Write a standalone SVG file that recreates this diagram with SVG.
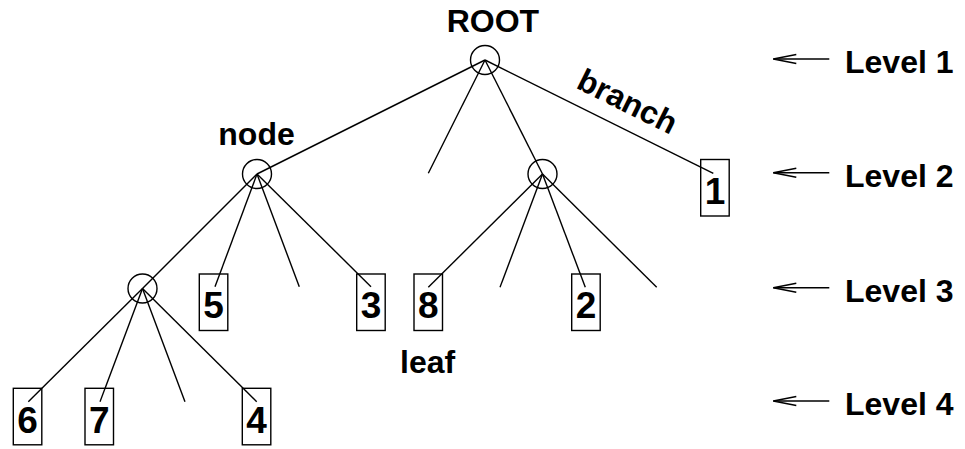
<svg xmlns="http://www.w3.org/2000/svg" width="965" height="449" viewBox="0 0 965 449">
  <style>
    .edge { stroke: #000; stroke-width: 1.4; fill: none; }
    .circ { stroke: #000; stroke-width: 1.4; fill: none; }
    .box { stroke: #000; stroke-width: 1.4; fill: none; }
    .num { font-family: "Liberation Sans", Arial, Helvetica, sans-serif; font-weight: bold; font-size: 37px; text-anchor: middle; fill: #000; }
    .lbl { font-family: "Liberation Sans", Arial, Helvetica, sans-serif; font-weight: bold; font-size: 32px; fill: #000; }
    .lvl { stroke: #000; stroke-width: 1.4; fill: none; }
  </style>
  <defs>
    <marker id="open-arrow" markerUnits="userSpaceOnUse" viewBox="-25 -6 26 12" refX="0" refY="0" markerWidth="26" markerHeight="12" orient="auto" overflow="visible">
      <path d="M-23,-4.5 L0,0 L-23,4.5" fill="none" stroke="#000" stroke-width="1.4"/>
    </marker>
  </defs>
  <rect width="965" height="449" fill="#fff"/>

  <!-- connectors -->
  <g id="edges" class="edge">
    <!-- from ROOT -->
    <line x1="485" y1="60" x2="257" y2="174"/>
    <line x1="485" y1="60" x2="428.3" y2="173.3"/>
    <line x1="485" y1="60" x2="542.5" y2="174"/>
    <line x1="485" y1="60" x2="713.3" y2="173.3"/>
    <!-- from node -->
    <line x1="257" y1="174" x2="142.5" y2="288.5"/>
    <line x1="257" y1="174" x2="215" y2="286.7"/>
    <line x1="257" y1="174" x2="299.3" y2="286.7"/>
    <line x1="257" y1="174" x2="371" y2="286.7"/>
    <!-- from right inner node -->
    <line x1="542.5" y1="174" x2="428.3" y2="287.3"/>
    <line x1="542.5" y1="174" x2="500" y2="287.3"/>
    <line x1="542.5" y1="174" x2="585.3" y2="287.3"/>
    <line x1="542.5" y1="174" x2="656.7" y2="287.3"/>
    <!-- from level 3 inner node -->
    <line x1="142.5" y1="288.5" x2="28.3" y2="401.7"/>
    <line x1="142.5" y1="288.5" x2="100" y2="401.7"/>
    <line x1="142.5" y1="288.5" x2="185" y2="401.7"/>
    <line x1="142.5" y1="288.5" x2="256.7" y2="401.7"/>
  </g>

  <!-- inner nodes -->
  <g id="root"><circle class="circ" cx="485" cy="60" r="14.5"/></g>
  <g id="node-l2a"><circle class="circ" cx="257" cy="174" r="14.5"/></g>
  <g id="node-l2b"><circle class="circ" cx="542.5" cy="174" r="14.5"/></g>
  <g id="node-l3"><circle class="circ" cx="142.5" cy="288.5" r="14.5"/></g>

  <!-- leaves: box outline with its digit -->
  <g id="leaf-1"><rect class="box" x="700.7" y="159.5" width="28.5" height="56.5"/><text class="num" x="715" y="203.5">1</text></g>
  <g id="leaf-5"><rect class="box" x="199.3" y="274" width="28.5" height="56.5"/><text class="num" x="213.5" y="318">5</text></g>
  <g id="leaf-3"><rect class="box" x="356.7" y="274" width="28.5" height="56.5"/><text class="num" x="371" y="318">3</text></g>
  <g id="leaf-8"><rect class="box" x="414" y="274" width="28.5" height="56.5"/><text class="num" x="428.3" y="318">8</text></g>
  <g id="leaf-2"><rect class="box" x="571.7" y="274" width="28.5" height="56.5"/><text class="num" x="586" y="318">2</text></g>
  <g id="leaf-6"><rect class="box" x="13.3" y="388.3" width="28.5" height="56.5"/><text class="num" x="27.5" y="432.5">6</text></g>
  <g id="leaf-7"><rect class="box" x="85" y="388.3" width="28.5" height="56.5"/><text class="num" x="99.3" y="432.5">7</text></g>
  <g id="leaf-4"><rect class="box" x="242.3" y="388.3" width="28.5" height="56.5"/><text class="num" x="256.6" y="432.5">4</text></g>

  <!-- annotations -->
  <g id="labels">
    <text class="lbl" x="446.7" y="31.7">ROOT</text>
    <text class="lbl" x="218.3" y="145">node</text>
    <text class="lbl" x="400" y="373.3">leaf</text>
    <text class="lbl" x="575" y="87.5" transform="rotate(26.4 575 87.5)">branch</text>
  </g>

  <!-- level markers -->
  <g id="levels">
    <line class="lvl" x1="829.3" y1="59" x2="773.3" y2="59" marker-end="url(#open-arrow)"/>
    <line class="lvl" x1="829.3" y1="172.7" x2="773.3" y2="172.7" marker-end="url(#open-arrow)"/>
    <line class="lvl" x1="829.3" y1="287.7" x2="773.3" y2="287.7" marker-end="url(#open-arrow)"/>
    <line class="lvl" x1="829.3" y1="401" x2="773.3" y2="401" marker-end="url(#open-arrow)"/>
    <text class="lbl" x="845" y="73.3">Level 1</text>
    <text class="lbl" x="845" y="186.7">Level 2</text>
    <text class="lbl" x="845" y="301.7">Level 3</text>
    <text class="lbl" x="845" y="415">Level 4</text>
  </g>
</svg>
